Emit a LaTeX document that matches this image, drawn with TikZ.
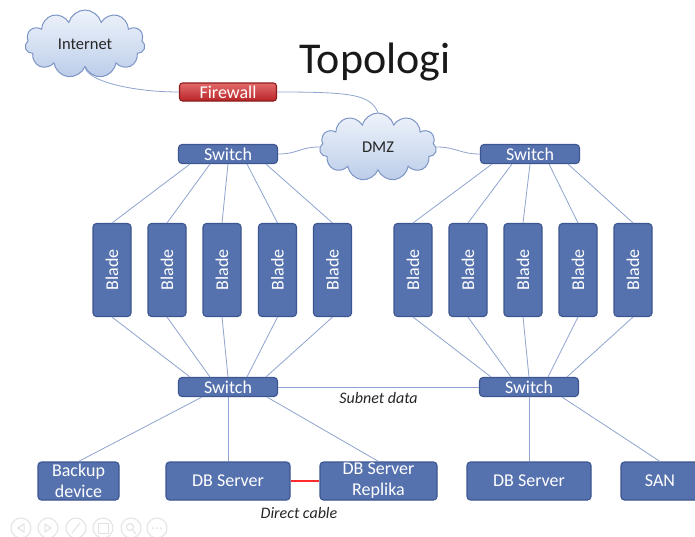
\documentclass[tikz,border=0pt]{standalone}
\usepackage{fontspec}
\setmainfont{Carlito}
\usetikzlibrary{shapes.symbols,calc}
\definecolor{boxfill}{HTML}{5672AE}
\definecolor{boxline}{HTML}{3D5690}
\definecolor{wirec}{HTML}{8FA4CF}
\definecolor{cloudline}{HTML}{7C95C6}
\definecolor{cloudtop}{HTML}{EEF3FB}
\definecolor{cloudbot}{HTML}{BCCDE9}
\definecolor{fwtop}{HTML}{E46A6A}
\definecolor{fwbot}{HTML}{B82428}
\definecolor{fwline}{HTML}{8E1C1C}
\definecolor{iconc}{HTML}{E2E2E2}
\definecolor{cablec}{HTML}{FF2A2A}
\begin{document}
\begin{tikzpicture}[x=1pt,y=-1pt,
 box/.style={draw=boxline, line width=1.1pt, fill=boxfill, rounded corners=3.5pt, text=white, inner sep=0pt, font=\fontsize{18}{21}\selectfont, align=center},
 sw/.style={box, minimum width=99pt, minimum height=19pt},
 blade/.style={box, minimum width=38pt, minimum height=93pt},
 srv/.style={box, minimum height=38pt},
 fw/.style={draw=fwline, line width=1.1pt, top color=fwtop, bottom color=fwbot, rounded corners=3pt, text=white, inner sep=0pt, minimum width=97pt, minimum height=18pt, font=\fontsize{18}{19}\selectfont},
 cl/.style={cloud, cloud puffs=11, cloud ignores aspect, draw=cloudline, line width=1pt, top color=cloudtop, bottom color=cloudbot, inner sep=0pt, font=\fontsize{16.5}{18}\selectfont, text=black!85},
 wire/.style={draw=wirec, line width=0.8pt},
 note/.style={font=\fontsize{16}{18}\selectfont\itshape, text=black!85},
 icon/.style={draw=iconc, line width=1pt}
]
\useasboundingbox[fill=white] (0,0) rectangle (695,536);

% title
\node[anchor=base, font=\fontsize{44}{46}\selectfont, text=black!90] (title) at (375,73) {Topologi};

% clouds and firewall
\node[cl, minimum width=120pt, minimum height=68pt] (inet) at (85,44) {Internet};
\node[cl, minimum width=117pt, minimum height=68pt] (dmz) at (378,147) {DMZ};
\node[fw] (fwl) at (228,92) {Firewall};

% switches
\node[sw] (sw1) at (228,154) {Switch};
\node[sw] (sw2) at (530,154) {Switch};
\node[sw] (sw3) at (228,387) {Switch};
\node[sw] (sw4) at (529,387) {Switch};

% blades
\foreach \i/\x in {1/112,2/167,3/222,4/277.5,5/332.5}
  \node[blade] (bl\i) at (\x,270) {\rotatebox{90}{Blade}};
\foreach \i/\x in {1/413,2/468,3/523,4/578,5/633}
  \node[blade] (br\i) at (\x,270) {\rotatebox{90}{Blade}};

% servers
\node[srv, minimum width=81pt] (bak) at (78.5,481) {Backup\\device};
\node[srv, minimum width=124pt] (db1) at (228,481) {DB Server};
\node[srv, minimum width=117pt] (rep) at (378.5,481) {DB Server\\Replika};
\node[srv, minimum width=124pt] (db2) at (529,481) {DB Server};
\node[srv, minimum width=78pt] (san) at (660,481) {SAN};

% curved links
\draw[wire] (inet.south) .. controls +(4,14) and +(-45,0) .. (fwl.west);
\draw[wire] (fwl.east) .. controls +(75,0) and +(-8,-18) .. (dmz.north);
\draw[wire] (sw1.east) .. controls +(20,0) and +(-20,0) .. (dmz.west);
\draw[wire] (dmz.east) .. controls +(20,0) and +(-20,0) .. (sw2.west);

% blade links
\foreach \i/\d in {1/-38,2/-18,3/0,4/19,5/38} {
  \draw[wire] ($(sw1.south)+(\d,0)$) -- (bl\i.north);
  \draw[wire] (bl\i.south) -- ($(sw3.north)+(\d,0)$);
  \draw[wire] ($(sw2.south)+(\d,0)$) -- (br\i.north);
  \draw[wire] (br\i.south) -- ($(sw4.north)+(\d,0)$);
}

% subnet link
\draw[wire] (sw3.east) -- node[note, below=2pt] (subnet) {Subnet data} (sw4.west);

% server links
\draw[wire] ($(sw3.south)+(-26,0)$) -- (bak.north);
\draw[wire] (sw3.south) -- (db1.north);
\draw[wire] ($(sw3.south)+(39,0)$) -- (rep.north);
\draw[wire] (sw4.south) -- (db2.north);
\draw[wire] ($(sw4.south)+(33,0)$) -- (san.north);
\draw[draw=cablec, line width=1.2pt] (db1.east) -- (rep.west);
\node[note] (direct) at (299,513) {Direct cable};

% faint slide controls
\foreach \x in {21,48,76,103,131,157}
  \draw[icon] (\x,528) circle (10);
\draw[icon] (24,524) -- (18,528) -- (24,532) -- cycle;
\draw[icon] (45,524) -- (51,528) -- (45,532) -- cycle;
\draw[icon] (72,533) -- (80,523);
\draw[icon] (98,523) rectangle (108,533);
\draw[icon] (130,527) circle (3.5) (132.5,530) -- (136,534);
\foreach \x in {153,157,161} \fill[iconc] (\x,528) circle (1);
\end{tikzpicture}
\end{document}
